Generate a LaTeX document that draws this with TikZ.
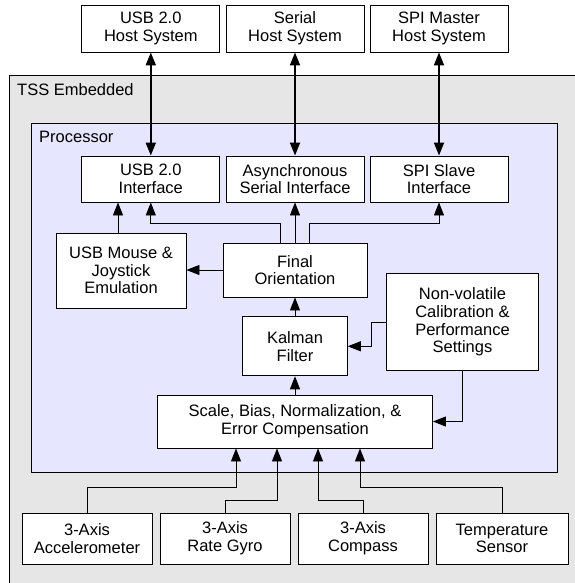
\documentclass[tikz,border=0pt]{standalone}
\usepackage{fontspec}
\setmainfont{Liberation Sans}
\usepackage{tikz}
\usetikzlibrary{arrows.meta}
\definecolor{tssgray}{RGB}{230,230,230}
\definecolor{procblue}{RGB}{230,230,255}

\begin{document}
\begin{tikzpicture}[x=1pt,y=-1pt,
    blk/.style={draw,fill=white,line width=0.9pt,align=center,inner sep=0pt,
      font=\fontsize{16.5}{17.7}\selectfont},
    arr/.style={line width=0.9pt,-{Triangle[length=13pt,width=10pt]}},
    dbl/.style={line width=2pt,{Triangle[length=13pt,width=10pt]}-{Triangle[length=13pt,width=10pt]}},
    lbl/.style={anchor=west,inner sep=0pt,font=\fontsize{16.5}{17.7}\selectfont}]
  \useasboundingbox (0,0) rectangle (574,583);
  \draw[fill=tssgray,line width=0.9pt] (9.5,75.7) rectangle (600,600);
  \node[lbl] (tss) at (17,90) {TSS Embedded};
  \draw[fill=procblue,line width=0.9pt] (31,123) rectangle (557,472);
  \node[lbl] (proc) at (39,137) {Processor};
  % host systems
  \node[blk,minimum width=138pt,minimum height=47pt] (usbhost) at (150.8,28.5) {USB 2.0\\Host System};
  \node[blk,minimum width=138pt,minimum height=47pt] (serhost) at (295,28.5) {Serial\\Host System};
  \node[blk,minimum width=138pt,minimum height=47pt] (spihost) at (439,28.5) {SPI Master\\Host System};
  % interfaces
  \node[blk,minimum width=138pt,minimum height=46pt] (usbif) at (150.8,179) {USB 2.0\\Interface};
  \node[blk,minimum width=138pt,minimum height=46pt] (serif) at (295,179) {Asynchronous\\Serial Interface};
  \node[blk,minimum width=138pt,minimum height=46pt] (spiif) at (439,179) {SPI Slave\\Interface};
  % processing
  \node[blk,minimum width=130pt,minimum height=75pt] (mouse) at (121,270.5) {USB Mouse \&\\Joystick\\Emulation};
  \node[blk,minimum width=144pt,minimum height=54pt] (final) at (295,270) {Final\\Orientation};
  \node[blk,minimum width=104.6pt,minimum height=59pt] (kalman) at (295,346.3) {Kalman\\Filter};
  \node[blk,minimum width=151.6pt,minimum height=97.4pt] (nv) at (462.5,322) {Non-volatile\\Calibration \&\\Performance\\Settings};
  \node[blk,minimum width=275pt,minimum height=53pt] (scale) at (295,421.5) {Scale, Bias, Normalization, \&\\Error Compensation};
  % sensors
  \node[blk,minimum width=130pt,minimum height=51pt] (accel) at (87,538.5) {3-Axis\\Accelerometer};
  \node[blk,minimum width=130pt,minimum height=51pt] (gyro) at (225,538.5) {3-Axis\\Rate Gyro};
  \node[blk,minimum width=130pt,minimum height=51pt] (compass) at (363,538.5) {3-Axis\\Compass};
  \node[blk,minimum width=132pt,minimum height=51pt] (temp) at (502,538.5) {Temperature\\Sensor};
  % host links
  \draw[dbl] (usbhost.south) -- (usbif.north);
  \draw[dbl] (serhost.south) -- (serif.north);
  \draw[dbl] (spihost.south) -- (spiif.north);
  % orientation out
  \draw[arr] ([xshift=-15pt]final.north) |- ([yshift=-21pt]usbif.south) -- (usbif.south);
  \draw[arr] (final.north) -- (serif.south);
  \draw[arr] ([xshift=14pt]final.north) |- ([yshift=-21pt]spiif.south) -- (spiif.south);
  \draw[arr] ([xshift=-3pt]mouse.north) -- ([xshift=-3pt]mouse.north |- usbif.south);
  \draw[arr] (final.west) -- (final.west -| mouse.east);
  \draw[arr] (kalman.north) -- (final.south);
  \draw[arr] (scale.north) -- (kalman.south);
  \draw[arr] (nv.west) -- ++(-15,0) |- (kalman.east);
  \draw[arr] (nv.south) |- (scale.east);
  % sensor inputs
  \draw[arr] (accel.north) |- ([xshift=-59pt,yshift=-39pt]scale.south) -- ([xshift=-59pt]scale.south);
  \draw[arr] (gyro.north) |- ([xshift=-18pt,yshift=-52pt]scale.south) -- ([xshift=-18pt]scale.south);
  \draw[arr] (compass.north) |- ([xshift=23pt,yshift=-52pt]scale.south) -- ([xshift=23pt]scale.south);
  \draw[arr] (temp.north) |- ([xshift=65pt,yshift=-39pt]scale.south) -- ([xshift=65pt]scale.south);
\end{tikzpicture}
\end{document}
